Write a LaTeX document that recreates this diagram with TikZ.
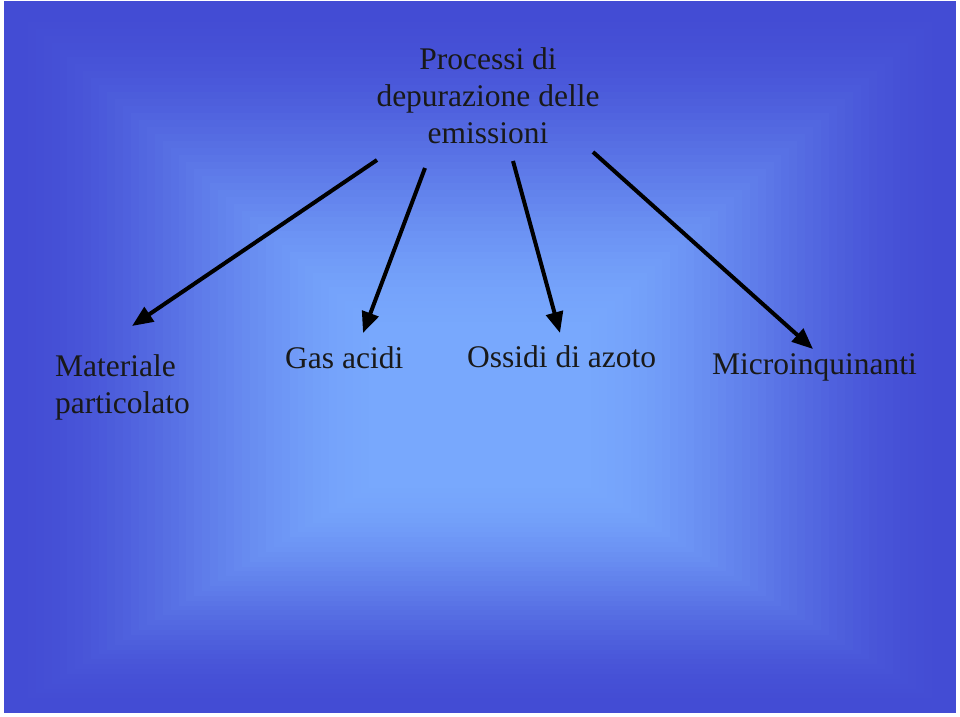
\documentclass[tikz,border=0pt]{standalone}
\usepackage{fontspec}
\setmainfont{Liberation Serif}
\usetikzlibrary{arrows.meta,positioning}
\definecolor{edgeblue}{RGB}{67,76,212}
\definecolor{midblue}{RGB}{120,168,253}

\begin{document}
\begin{tikzpicture}[x=1pt, y=-1pt,
  lbl/.style={inner sep=0pt, font=\fontsize{31.5}{37}\selectfont, text=black!90},
  arr/.style={-{Triangle[length=21pt, width=17pt]}, line width=4pt}
]
  \useasboundingbox (0,0) rectangle (960,716);
  % slide background: rectangular gradient towards the middle
  \foreach \i in {0,...,59} {
    \pgfmathsetmacro{\t}{\i/60}
    \pgfmathsetmacro{\u}{min(1,\t/0.8)}
    \pgfmathsetmacro{\p}{100*(3*\u*\u-2*\u*\u*\u)}
    \fill[midblue!\p!edgeblue]
      ({4+\t*476},{1+\t*419}) rectangle ({956-\t*476},{713-\t*293});
  }

  \node[lbl, align=center, anchor=north] (title) at (488,47) {Processi di\\depurazione delle\\emissioni};
  \node[lbl, align=left, anchor=north west] (mat) at (55,354) {Materiale\\particolato};
  \node[lbl, anchor=base west] (gas) at (285,368) {Gas acidi};
  \node[lbl, anchor=base west] (nox) at (467,367) {Ossidi di azoto};
  \node[lbl, anchor=base west] (micro) at (712,374) {Microinquinanti};

  % arrow ends
  \coordinate (from-mat) at (377,160);   \coordinate (to-mat) at (132,326);
  \coordinate (from-gas) at (425,168);   \coordinate (to-gas) at (363,333);
  \coordinate (from-nox) at (513,161);   \coordinate (to-nox) at (560,333);
  \coordinate (from-micro) at (593,152); \coordinate (to-micro) at (813,349);

  \draw[arr] (from-mat) -- (to-mat);
  \draw[arr] (from-gas) -- (to-gas);
  \draw[arr] (from-nox) -- (to-nox);
  \draw[arr] (from-micro) -- (to-micro);
\end{tikzpicture}
\end{document}
